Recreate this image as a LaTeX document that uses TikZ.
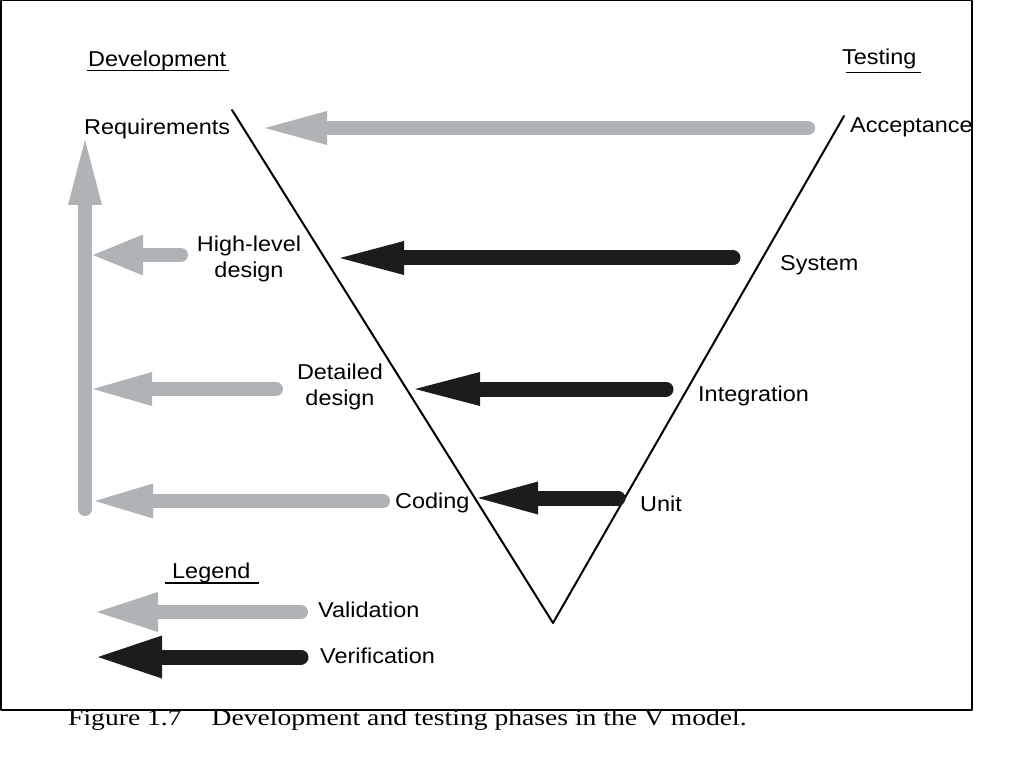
\documentclass[tikz,border=0pt]{standalone}
\usepackage{fontspec}
\setmainfont{Liberation Sans}[FakeStretch=1.09]
\newfontfamily\capfont{Liberation Serif}[FakeStretch=1.2]
\usetikzlibrary{arrows.meta}
\definecolor{vgray}{RGB}{176,179,181}
\definecolor{vblack}{RGB}{28,28,28}
\tikzset{
  lbl/.style={inner sep=0pt, anchor=base west, font=\fontsize{21.5}{26}\selectfont},
  garrow/.style 2 args={draw=vgray, line width=14pt, -{Triangle[length=#1,width=#2,line width=0pt]}},
  barrow/.style 2 args={draw=vblack, line width=15pt, -{Triangle[length=#1,width=#2,line width=0pt]}},
}
\begin{document}
\begin{tikzpicture}[x=1pt,y=1pt, line join=round, line cap=round]
  \useasboundingbox (0,0) rectangle (1030,-767);
  \draw[line width=1.5pt, line cap=butt] (0.75,-0.75) rectangle (972,-710);
  % texts
  \node[lbl] (dev) at (88,-66.5) {Development};
  \node[lbl] (test) at (842,-65) {Testing};
  \node[lbl] (req) at (84,-135) {Requirements};
  \node[lbl] (acc) at (850,-133) {Acceptance};
  \node[lbl, align=center, anchor=base] (hld) at (249,-277) {High-level\\design};
  \node[lbl] (sys) at (780,-271) {System};
  \node[lbl, align=center, anchor=base] (dd) at (340,-405) {Detailed\\design};
  \node[lbl] (integ) at (698,-401) {Integration};
  \node[lbl] (cod) at (395,-508) {Coding};
  \node[lbl] (unit) at (640,-511.5) {Unit};
  \node[lbl] (leg) at (172,-578) {Legend};
  \node[lbl] (val) at (318,-617) {Validation};
  \node[lbl] (ver) at (320,-663) {Verification};
  \node[inner sep=0pt, anchor=base west, font=\capfont\fontsize{23}{26}\selectfont] (cap)
    at (68,-725) {Figure 1.7\hspace{30pt}Development and testing phases in the V model.};
  % underlines
  \draw[line width=1.5pt, line cap=butt] (87,-70.5) -- (229,-70.5) (846,-72.5) -- (921,-72.5)
    (165,-583) -- (259,-583);
  % the V
  \path (232,-110) coordinate (vl) (553,-623) coordinate (vb) (844,-116) coordinate (vr);
  \draw[line width=2pt] (vl) -- (vb) -- (vr);
  % arrow ends
  \path
  (808,-128) coordinate (acc-t) (265,-128) coordinate (req-h)
  (733,-258) coordinate (sys-t) (340,-258) coordinate (hld-h)
  (666,-389) coordinate (integ-t) (415,-389) coordinate (dd-h)
  (618,-498) coordinate (unit-t) (478,-498) coordinate (cod-h)
  (181,-255) coordinate (hld-t) (93,-255) coordinate (hld-b)
  (276,-389) coordinate (dd-t) (93,-389) coordinate (dd-b)
  (383,-501) coordinate (cod-t) (95,-501) coordinate (cod-b)
  (85,-509) coordinate (bar-t) (85,-140) coordinate (bar-h)
  (301,-612) coordinate (val-t) (97,-612) coordinate (val-h)
  (301,-657) coordinate (ver-t) (98,-657) coordinate (ver-h)
  ;
  \draw[garrow={62pt}{34pt}] (acc-t) -- (req-h);
  \draw[barrow={64pt}{34pt}] (sys-t) -- (hld-h);
  \draw[barrow={65pt}{34pt}] (integ-t) -- (dd-h);
  \draw[barrow={60pt}{33pt}] (unit-t) -- (cod-h);
  \draw[garrow={65pt}{34pt}] (bar-t) -- (bar-h);
  \draw[garrow={50pt}{41pt}] (hld-t) -- (hld-b);
  \draw[garrow={59pt}{34pt}] (dd-t) -- (dd-b);
  \draw[garrow={58pt}{35pt}] (cod-t) -- (cod-b);
  \draw[garrow={61pt}{40pt}] (val-t) -- (val-h);
  \draw[barrow={64pt}{43pt}] (ver-t) -- (ver-h);
\end{tikzpicture}
\end{document}
